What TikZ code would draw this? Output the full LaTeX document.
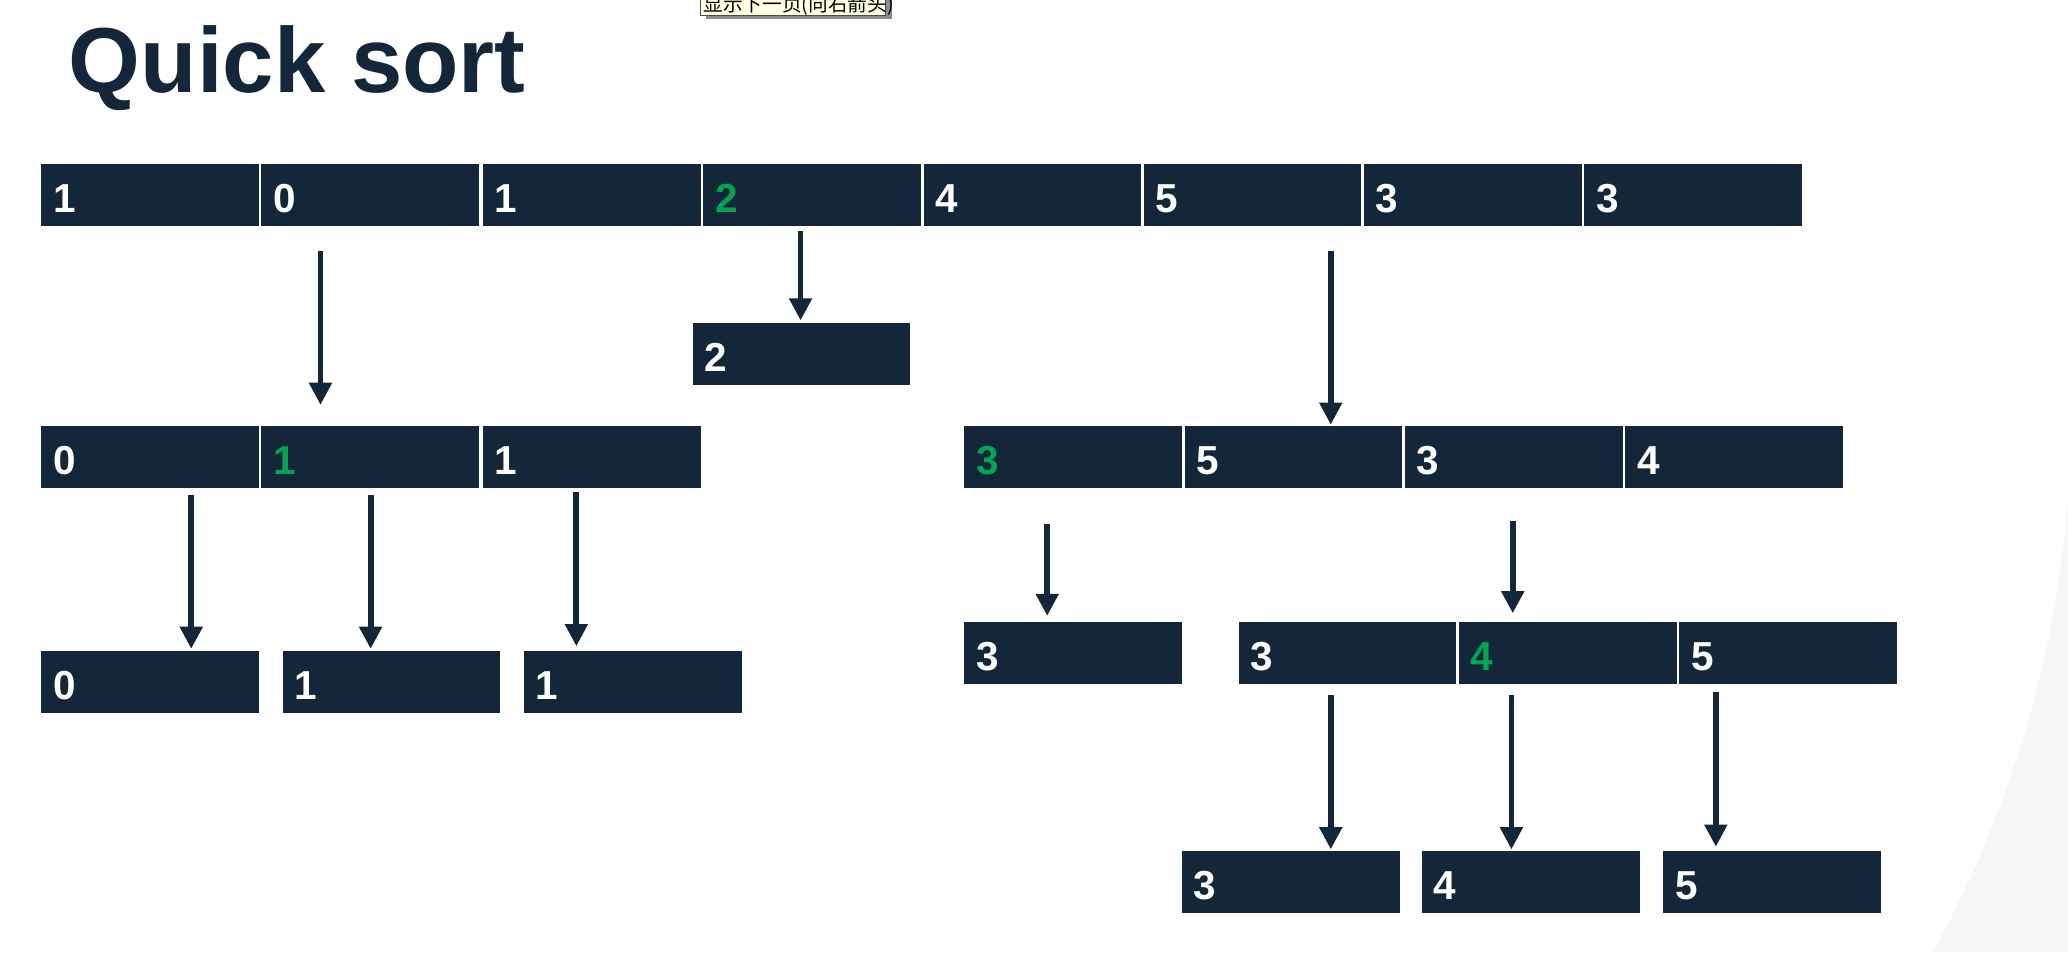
\documentclass[tikz,border=0pt]{standalone}
\usepackage{fontspec}
\setmainfont{Liberation Sans}
\newfontfamily\cjk{Noto Sans CJK SC}
\usetikzlibrary{arrows.meta}
\definecolor{navy}{HTML}{13263A}
\definecolor{pivot}{HTML}{00A651}
\definecolor{bgcurve}{HTML}{F4F6F8}
\definecolor{tipfill}{HTML}{FFFFE1}
\tikzset{
  cell/.style={rectangle, fill=navy, draw=none, inner sep=0pt, anchor=north west,
    minimum width=123.75pt, minimum height=35.25pt},
  num/.style={font=\bfseries\fontsize{23}{23}\selectfont, inner sep=0pt, anchor=base west},
  arr/.style={draw=navy, line width=3.3pt, -{Triangle[length=12.6pt,width=12.4pt]}},
}
\newcommand\qcell[5]{%
  \node[cell] (#1) at (#2,#3) {};
  \node[num,text=#5] (#1t) at (#2+9,#3+37) {#4};}
\begin{document}
\begin{tikzpicture}[x=0.75pt,y=-0.75pt]
\useasboundingbox (0,0) rectangle (1568,722);
\fill[white] (0,0) rectangle (1568,722);
% background curve
\fill[bgcurve] (1568,380) .. controls (1555,520) and (1520,620) .. (1466,722) -- (1568,722) -- cycle;
% tooltip
\fill[black!45] (535,-10) rectangle (676,14.5);
\node[draw=black!70, fill=tipfill, line width=0.6pt, anchor=south west, inner sep=0pt,
  minimum width=105pt, minimum height=20pt] (tip) at (531,12) {};
\node[font=\cjk\fontsize{11.2}{11.2}\selectfont, anchor=base west, inner sep=0pt] (tipt) at (533,8.5) {显示下一页(向右箭头)};
% title
\node[font=\bfseries\fontsize{52.5}{52.5}\selectfont, text=navy, anchor=base west, inner sep=0pt] (title) at (52,70) {Quick sort};
% row 1
\qcell{r1a}{31}{124}{1}{white}
\qcell{r1b}{198}{124}{0}{white}
\qcell{r1c}{366}{124}{1}{white}
\qcell{r1d}{533}{124}{2}{pivot}
\qcell{r1e}{700}{124}{4}{white}
\qcell{r1f}{867}{124}{5}{white}
\qcell{r1g}{1034}{124}{3}{white}
\qcell{r1h}{1201}{124}{3}{white}
% pivot 2
\qcell{p2}{525}{245}{2}{white}
% row 2 left
\qcell{l2a}{31}{323}{0}{white}
\qcell{l2b}{198}{323}{1}{pivot}
\qcell{l2c}{366}{323}{1}{white}
% row 2 right
\qcell{r2a}{731}{323}{3}{pivot}
\qcell{r2b}{898}{323}{5}{white}
\qcell{r2c}{1065}{323}{3}{white}
\qcell{r2d}{1232}{323}{4}{white}
% row 3 left
\qcell{l3a}{31}{493}{0}{white}
\qcell{l3b}{214}{493}{1}{white}
\qcell{l3c}{397}{493}{1}{white}
% row 3 right
\qcell{r3a}{731}{471}{3}{white}
\qcell{r3b}{939}{471}{3}{white}
\qcell{r3c}{1106}{471}{4}{pivot}
\qcell{r3d}{1273}{471}{5}{white}
% row 4
\qcell{r4a}{896}{645}{3}{white}
\qcell{r4b}{1078}{645}{4}{white}
\qcell{r4c}{1261}{645}{5}{white}
% arrow coordinates
\coordinate (a1s) at (243,190);  \coordinate (a1e) at (243,307);
\coordinate (a2s) at (607,175);  \coordinate (a2e) at (607,243);
\coordinate (a3s) at (1009,190); \coordinate (a3e) at (1009,322);
\coordinate (a4s) at (145,375);  \coordinate (a4e) at (145,492);
\coordinate (a5s) at (281,375);  \coordinate (a5e) at (281,492);
\coordinate (a6s) at (437,373);  \coordinate (a6e) at (437,490);
\coordinate (a7s) at (794,397);  \coordinate (a7e) at (794,467);
\coordinate (a8s) at (1147,395); \coordinate (a8e) at (1147,465);
\coordinate (a9s) at (1009,527); \coordinate (a9e) at (1009,644);
\coordinate (a10s) at (1146,527); \coordinate (a10e) at (1146,644);
\coordinate (a11s) at (1301,525); \coordinate (a11e) at (1301,642);
\foreach \i in {1,...,11} \draw[arr] (a\i s) -- (a\i e);
\end{tikzpicture}
\end{document}
